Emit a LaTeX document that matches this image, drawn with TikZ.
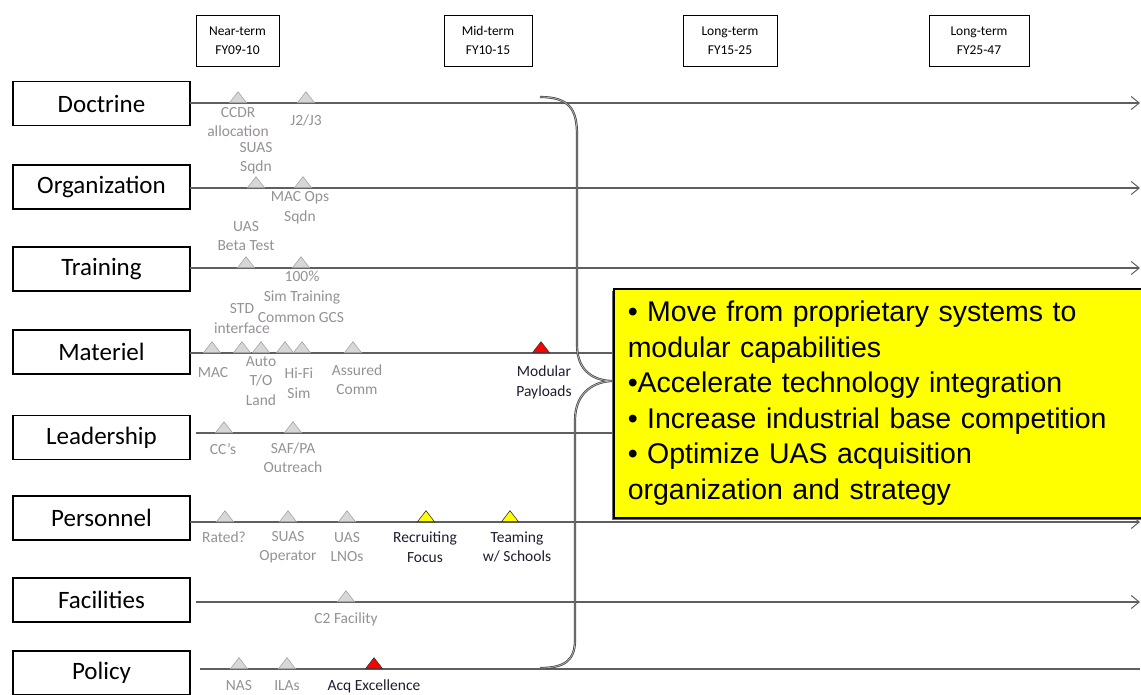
\documentclass[tikz,border=0pt]{standalone}
\usepackage{fontspec}
\setmainfont{Carlito}
\newfontfamily\arialf{Liberation Sans}
\usetikzlibrary{shapes.geometric,arrows.meta,shadows,calc}
\definecolor{lblgray}{RGB}{150,145,150}
\definecolor{lbldark}{RGB}{30,30,50}
\definecolor{tfill}{RGB}{215,215,215}
\definecolor{tdraw}{RGB}{165,165,165}
\definecolor{linec}{RGB}{95,95,95}
\definecolor{ybox}{RGB}{255,255,0}
\begin{document}
\begin{tikzpicture}[x=1pt,y=-1pt,
  rowbox/.style={draw=black,line width=1.2pt,minimum width=177pt,minimum height=44pt,inner sep=0pt,font=\fontsize{25}{30}\selectfont},
  hdr/.style={draw=black,line width=0.8pt,minimum height=51pt,inner sep=0pt,align=center,font=\fontsize{13.5}{19}\selectfont},
  tl/.style={draw=linec,line width=1.3pt},
  arr/.style={-{Straight Barb[length=8pt,width=13pt,line width=1pt]}},
  tri/.style={isosceles triangle,isosceles triangle stretches,shape border rotate=90,minimum width=17pt,minimum height=11pt,inner sep=0pt,anchor=lower side,draw=tdraw,fill=tfill,line width=0.6pt},
  ytri/.style={tri,draw=black!80,fill=ybox},
  rtri/.style={tri,draw=black!80,fill=red},
  lbl/.style={inner sep=0pt,align=center,text=lblgray,font=\fontsize{15.5}{19.5}\selectfont},
  dlbl/.style={lbl,text=lbldark},
  brace/.style={draw=black!75,double=black!30,double distance=0.8pt,line width=0.7pt},
  goalbox/.style={draw=black,line width=1.5pt,fill=ybox,minimum width=538pt,minimum height=229pt,text width=510pt,inner xsep=14pt,align=left,font=\arialf\fontsize{28.5}{35.5}\selectfont,drop shadow={shadow xshift=-2pt,shadow yshift=-2pt,fill=black!60,opacity=1}}
]
\clip (0,0) rectangle (1141,694);
\fill[white] (0,0) rectangle (1141,694);

% header boxes
\node[hdr,minimum width=83pt] (h1) at (237.5,40.5) {Near-term\\FY09-10};
\node[hdr,minimum width=88pt] (h2) at (488,40.5) {Mid-term\\FY10-15};
\node[hdr,minimum width=94pt] (h3) at (730,40.5) {Long-term\\FY15-25};
\node[hdr,minimum width=100pt] (h4) at (979,40.5) {Long-term\\FY25-47};

% row boxes
\node[rowbox] (doc) at (101.5,103.5) {Doctrine};
\node[rowbox] (org) at (101.5,187) {Organization};
\node[rowbox] (trn) at (101.5,269) {Training};
\node[rowbox] (mat) at (101.5,352) {Materiel};
\node[rowbox] (lea) at (101.5,437.5) {Leadership};
\node[rowbox] (per) at (101.5,518) {Personnel};
\node[rowbox] (fac) at (101.5,600) {Facilities};
\node[rowbox] (pol) at (101.5,673) {Policy};

% goal box (placed first to define anchors)
\node[goalbox,anchor=north west] (goals) at (613,288) {%
• Move from proprietary systems to\\
modular capabilities\\
•Accelerate technology integration\\
• Increase industrial base competition\\
• Optimize UAS acquisition\\
organization and strategy};

% line ends
\coordinate (endx) at (1140,0);
\coordinate (docS) at (190,103);
\coordinate (orgS) at (190,188);
\coordinate (trnS) at (190,268);
\coordinate (matS) at (190,353);
\coordinate (leaS) at (196,433);
\coordinate (perS) at (190,522);
\coordinate (facS) at (196,602);
\coordinate (polS) at (200,669);

% timelines
\draw[tl,arr] (docS) -- (docS -| endx);
\draw[tl,arr] (orgS) -- (orgS -| endx);
\draw[tl,arr] (trnS) -- (trnS -| endx);
\draw[tl] (matS) -- (matS -| goals.west);
\draw[tl] (leaS) -- (leaS -| goals.west);
\draw[tl,arr] (perS) -- (perS -| endx);
\draw[tl,arr] (facS) -- (facS -| endx);
\draw[tl] (polS) -- (polS -| endx);

% brace
\coordinate (bt) at (540,97);
\coordinate (bb) at (540,668);
\coordinate (tip) at ($(goals.north west)+(0,93)$);
\draw[brace] (bt) .. controls (570,97) and (577,110) .. (577,135) -- (577,345)
  .. controls (577,372) and (595,381) .. (tip)
  .. controls (595,381) and (575,392) .. (575,420) -- (575,640)
  .. controls (575,660) and (565,668) .. (bb);

% goal box on top of lines
\node[goalbox,anchor=north west] (goalsTop) at (613,288) {%
• Move from proprietary systems to\\
modular capabilities\\
•Accelerate technology integration\\
• Increase industrial base competition\\
• Optimize UAS acquisition\\
organization and strategy};

% Doctrine
\node[tri] (d1) at (238,103) {};
\node[tri] (d2) at (306,103) {};
\node[lbl] (ld1) at (238,122) {CCDR\\allocation};
\node[lbl] (ld2) at (306,120) {J2/J3};
% Organization
\node[tri] (o1) at (256,188) {};
\node[tri] (o2) at (303,188) {};
\node[lbl] (lo1) at (256,158) {SUAS\\Sqdn};
\node[lbl] (lo2) at (300,207.5) {MAC Ops\\Sqdn};
% Training
\node[tri] (r1) at (246,268) {};
\node[tri] (r2) at (301,268) {};
\node[lbl] (lr1) at (246,236) {UAS\\Beta Test};
\node[lbl] (lr2) at (302,287.5) {100\%\\Sim Training};
% Materiel
\node[tri] (m1) at (212,353) {};
\node[tri] (m2) at (242,353) {};
\node[tri] (m3) at (261,353) {};
\node[tri] (m4) at (285,353) {};
\node[tri] (m5) at (302,353) {};
\node[tri] (m6) at (353,353) {};
\node[rtri] (m7) at (541,353) {};
\node[lbl] (lm1) at (242,318.5) {STD\\interface};
\node[lbl] (lm2) at (301,318) {Common GCS};
\node[lbl] (lm3) at (213,373) {MAC};
\node[lbl] (lm4) at (261,381) {Auto\\T/O\\Land};
\node[lbl] (lm5) at (299,383) {Hi-Fi\\Sim};
\node[lbl] (lm6) at (357,379.5) {Assured\\Comm};
\node[dlbl] (lm7) at (544,382.5) {Modular\\Payloads};
% Leadership
\node[tri] (l1) at (224,433) {};
\node[tri] (l2) at (293,433) {};
\node[lbl] (ll1) at (223,449) {CC’s};
\node[lbl] (ll2) at (293,457.5) {SAF/PA\\Outreach};
% Personnel
\node[tri] (p1) at (225,522) {};
\node[tri] (p2) at (288,522) {};
\node[tri] (p3) at (347,522) {};
\node[ytri] (p4) at (426,522) {};
\node[ytri] (p5) at (510,522) {};
\node[lbl] (lp1) at (224,537) {Rated?};
\node[lbl] (lp2) at (288,547) {SUAS\\Operator};
\node[lbl] (lp3) at (347,547) {UAS\\LNOs};
\node[dlbl] (lp4) at (425,547) {Recruiting\\Focus};
\node[dlbl] (lp5) at (517,547) {Teaming\\w/ Schools};
% Facilities
\node[tri] (f1) at (346,602) {};
\node[lbl] (lf1) at (346,619) {C2 Facility};
% Policy
\node[tri] (q1) at (239,669) {};
\node[tri] (q2) at (287,669) {};
\node[rtri] (q3) at (374,669) {};
\node[lbl] (lq1) at (239,686) {NAS};
\node[lbl] (lq2) at (287,686) {ILAs};
\node[dlbl] (lq3) at (374,686) {Acq Excellence};
\end{tikzpicture}
\end{document}
